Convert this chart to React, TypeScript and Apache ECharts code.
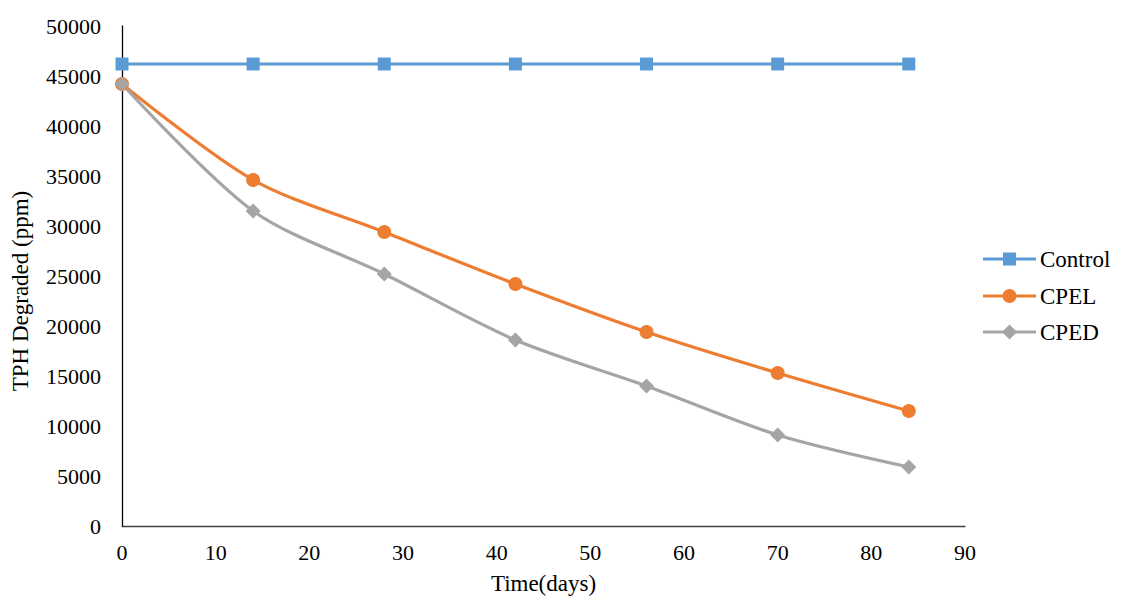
import React, { useEffect, useRef } from "react";
import * as echarts from "echarts";

// Sampling days
const days = [0, 14, 28, 42, 56, 70, 84];

// TPH degraded (ppm) per treatment
const control = [46200, 46200, 46200, 46200, 46200, 46200, 46200];
const cpel = [44200, 34600, 29400, 24200, 19400, 15300, 11500];
const cped = [44200, 31500, 25200, 18600, 14000, 9100, 5900];

const seriesNames = ["Control", "CPEL", "CPED"];
const seriesColors = ["#5B9BD5", "#ED7D31", "#A5A5A5"];

const FONT = "'Times New Roman', 'Liberation Serif', serif";

const pairs = (ys: number[]) => days.map((d, i) => [d, ys[i]]);

// Legend drawn as graphic items: line, marker and serif label per series
function legendGraphic() {
  const x0 = 983;
  const lineLen = 53;
  const rowY = [259, 296, 332];
  const items: any[] = [];
  seriesNames.forEach((name, i) => {
    const y = rowY[i];
    const color = seriesColors[i];
    const cx = x0 + lineLen / 2;
    items.push({
      type: "line",
      shape: { x1: x0, y1: y, x2: x0 + lineLen, y2: y },
      style: { stroke: color, lineWidth: 3.2 },
    });
    if (i === 0) {
      items.push({
        type: "rect",
        shape: { x: cx - 6.5, y: y - 6.5, width: 13, height: 13 },
        style: { fill: color },
      });
    } else if (i === 1) {
      items.push({ type: "circle", shape: { cx, cy: y, r: 7 }, style: { fill: color } });
    } else {
      items.push({
        type: "polygon",
        shape: { points: [[cx, y - 7.5], [cx + 7.5, y], [cx, y + 7.5], [cx - 7.5, y]] },
        style: { fill: color },
      });
    }
    items.push({
      type: "text",
      x: x0 + lineLen + 4,
      y,
      style: {
        text: name,
        font: "23px " + FONT,
        fill: "#000",
        verticalAlign: "middle",
        align: "left",
      },
    });
  });
  return items;
}

export default function App() {
  const ref = useRef<HTMLDivElement>(null);

  useEffect(() => {
    if (!ref.current) return;
    const chart = echarts.init(ref.current, undefined, { renderer: "svg" });
    chart.setOption({
      animation: false,
      backgroundColor: "#ffffff",
      textStyle: { fontFamily: FONT, color: "#000" },
      grid: {
        left: 122,
        right: 157,
        top: 26,
        bottom: 74,
        containLabel: false,
        outerBoundsMode: "none",
      },
      graphic: legendGraphic(),
      xAxis: {
        type: "value",
        min: 0,
        max: 90,
        interval: 10,
        name: "Time(days)",
        nameLocation: "middle",
        nameGap: 46,
        nameTextStyle: { fontFamily: FONT, fontSize: 23, color: "#000" },
        axisLine: { show: true, lineStyle: { color: "#404040", width: 1.3 } },
        axisTick: { show: false },
        splitLine: { show: false },
        axisLabel: { fontFamily: FONT, fontSize: 22, color: "#000", margin: 15 },
      },
      yAxis: {
        type: "value",
        min: 0,
        max: 50000,
        interval: 5000,
        name: "TPH Degraded (ppm)",
        nameLocation: "middle",
        nameGap: 90,
        nameTextStyle: { fontFamily: FONT, fontSize: 23, color: "#000", padding: [0, 30, 0, 0] },
        axisLine: { show: true, lineStyle: { color: "#000", width: 1.3 } },
        axisTick: { show: false },
        splitLine: { show: false },
        axisLabel: {
          fontFamily: FONT,
          fontSize: 22,
          color: "#000",
          margin: 21,
          formatter: (v: number) => String(v),
        },
      },
      series: [
        {
          name: seriesNames[0],
          type: "line",
          data: pairs(control),
          smooth: 0.3,
          symbol: "rect",
          symbolSize: 13,
          itemStyle: { color: seriesColors[0] },
          lineStyle: { color: seriesColors[0], width: 3.2 },
        },
        {
          name: seriesNames[1],
          type: "line",
          data: pairs(cpel),
          smooth: 0.3,
          symbol: "circle",
          symbolSize: 14,
          itemStyle: { color: seriesColors[1] },
          lineStyle: { color: seriesColors[1], width: 3.2 },
        },
        {
          name: seriesNames[2],
          type: "line",
          data: pairs(cped),
          smooth: 0.3,
          symbol: "diamond",
          symbolSize: 15,
          itemStyle: { color: seriesColors[2] },
          lineStyle: { color: seriesColors[2], width: 3.2 },
        },
      ],
    });
    return () => chart.dispose();
  }, []);

  return (
    <div
      ref={ref}
      style={{ position: "fixed", left: 0, top: 0, width: 1122, height: 600, background: "#fff" }}
    />
  );
}
